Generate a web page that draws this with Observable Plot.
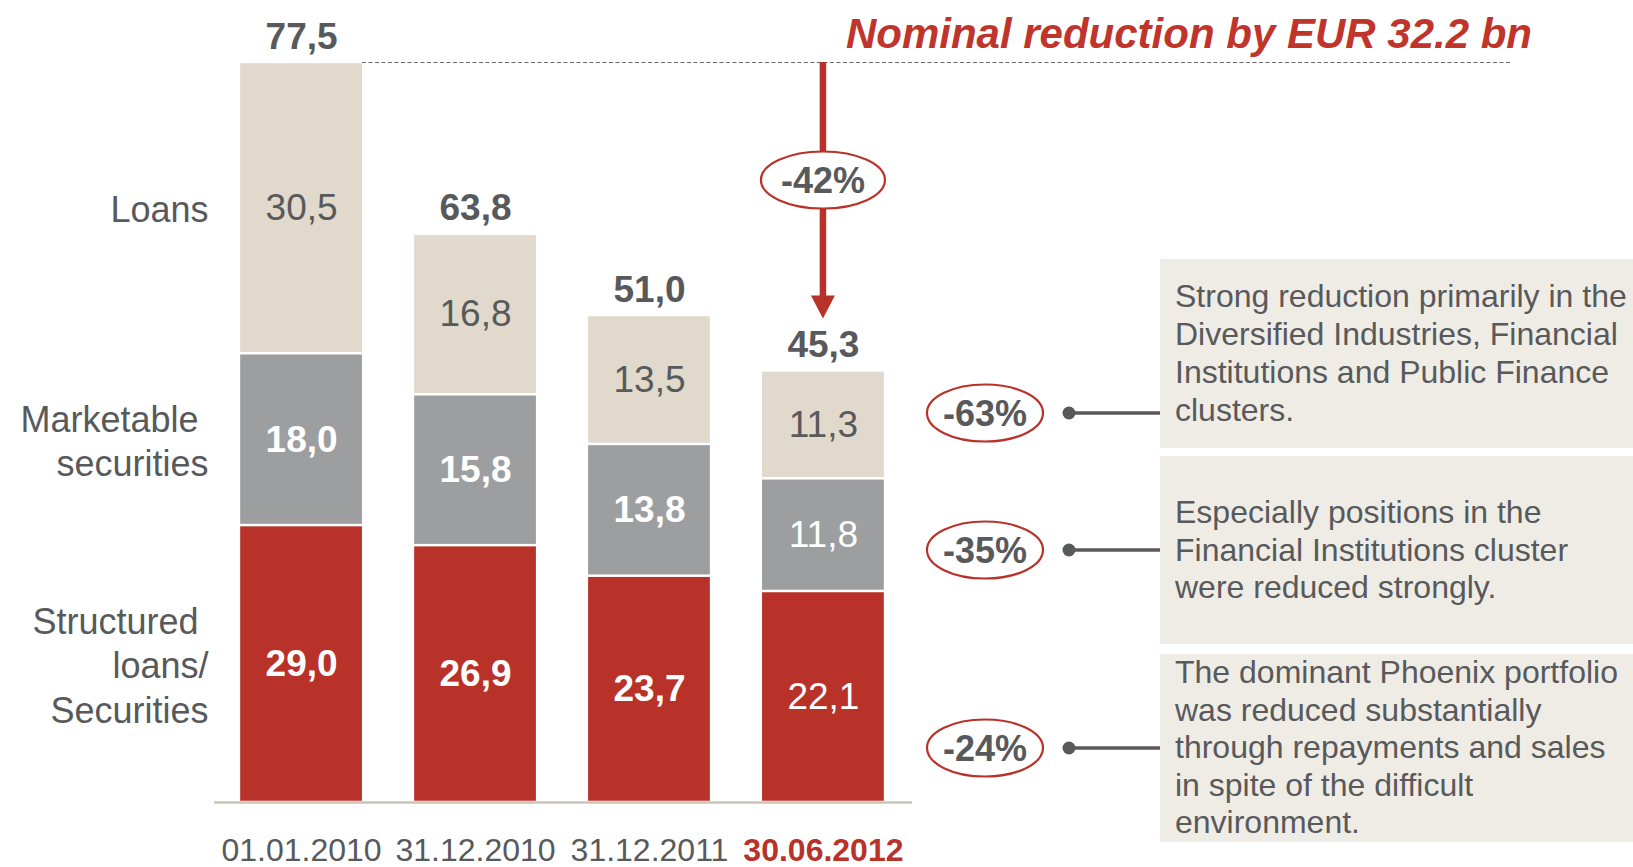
<!DOCTYPE html>
<html><head><meta charset="utf-8">
<script src="https://cdn.jsdelivr.net/npm/d3@7"></script>
<script src="https://cdn.jsdelivr.net/npm/@observablehq/plot@0.6"></script>
<style>body{margin:0;background:#fff;} svg{display:block;}</style>
</head><body><div id="chart"></div>
<script>
// ---- data ----
const dates = ["01.01.2010", "31.12.2010", "31.12.2011", "30.06.2012"];
const seriesKeys = ["Structured", "Marketable", "Loans"];
const seriesLabels = ["Structured\u00A0\nloans/\nSecurities", "Marketable\u00A0\nsecurities", "Loans"];
const structured = [29.0, 26.9, 23.7, 22.1];
const marketable = [18.0, 15.8, 13.8, 11.8];
const loans = [30.5, 16.8, 13.5, 11.3];
const totals = [77.5, 63.8, 51.0, 45.3];
const title = "Nominal reduction by EUR 32.2 bn";
const totalChange = "-42%";
const changes = ["-63%", "-35%", "-24%"];
const notes = [
  ["Strong reduction primarily in the", "Diversified Industries, Financial", "Institutions and Public Finance", "clusters."],
  ["Especially positions in the", "Financial Institutions cluster", "were reduced strongly."],
  ["The dominant Phoenix portfolio", "was reduced substantially", "through repayments and sales", "in spite of the difficult", "environment."]
];

// ---- styles ----
const RED = "#b8322a", TITLE_RED = "#c0352b", GRAY = "#9d9ea0", BEIGE = "#e0d9cc";
const TXT = "#58595b", BOX = "#efece6", AXIS = "#cbc5b9";
const FONT = "'Liberation Sans', Arial, Helvetica, sans-serif";
const fmt = v => d3.format(".1f")(v).replace(".", ",");

const rows = [];
dates.forEach((d, i) => {
  rows.push({date: d, series: "Structured", value: structured[i]});
  rows.push({date: d, series: "Marketable", value: marketable[i]});
  rows.push({date: d, series: "Loans", value: loans[i]});
});
const totalRows = dates.map((d, i) => ({date: d, total: totals[i], top: structured[i] + marketable[i] + loans[i]}));
const labelOf = Object.fromEntries(seriesKeys.map((k, i) => [k, seriesLabels[i]]));
const last = dates[dates.length - 1];

const stack = {x: "date", y: "value", z: "series", order: seriesKeys};

const chart = Plot.plot({
  width: 1633, height: 867,
  marginLeft: 188, marginRight: 697, marginTop: 62, marginBottom: 65,
  style: {fontFamily: FONT, background: "white"},
  x: {domain: dates, padding: 0.3, round: false, axis: null},
  y: {domain: [0, d3.max(totalRows, d => d.top)], axis: null},
  color: {domain: seriesKeys, range: [RED, GRAY, BEIGE]},
  marks: [
    Plot.barY(rows, Plot.stackY({...stack, fill: "series", insetTop: 1.25, insetBottom: 1.25})),
    Plot.ruleY([0], {stroke: AXIS, strokeWidth: 2.5, insetLeft: 26, insetRight: 24}),
    // loans labels (dark, regular)
    Plot.text(rows, Plot.filter(d => d.series === "Loans",
      Plot.stackY({...stack, text: d => fmt(d.value), fill: TXT, fontSize: 37}))),
    // bold white labels
    Plot.text(rows, Plot.filter(d => d.series !== "Loans" && d.date !== last,
      Plot.stackY({...stack, text: d => fmt(d.value), fill: "white", fontSize: 37, fontWeight: "bold"}))),
    // regular white labels for latest date
    Plot.text(rows, Plot.filter(d => d.series !== "Loans" && d.date === last,
      Plot.stackY({...stack, text: d => fmt(d.value), fill: "white", fontSize: 37}))),
    // totals
    Plot.text(totalRows, {x: "date", y: "top", text: d => fmt(d.total), lineAnchor: "bottom", dy: -14,
      fontSize: 37, fontWeight: "bold", fill: TXT}),
    // category labels beside first bar
    Plot.text(rows, Plot.filter(d => d.date === dates[0],
      Plot.stackY({...stack, text: d => labelOf[d.series], textAnchor: "end", dx: -93,
        lineHeight: 1.24, fontSize: 36, fill: TXT}))),
    // date tick labels
    Plot.text(dates.filter(d => d !== last), {x: d => d, frameAnchor: "bottom", lineAnchor: "bottom", dy: 58,
      fontSize: 32, fill: TXT}),
    Plot.text([last], {x: d => d, frameAnchor: "bottom", lineAnchor: "bottom", dy: 58,
      fontSize: 32, fontWeight: "bold", fill: RED})
  ]
});

document.getElementById("chart").append(chart);

// ---- annotations ----
const svg = d3.select(chart);
const xs = chart.scale("x"), ys = chart.scale("y");
const bw = xs.bandwidth;
const xLast = xs.apply(last) + bw / 2;
const xFirstRight = xs.apply(dates[0]) + bw;
const yTop = ys.apply(totalRows[0].top);
const tipY = ys.apply(totalRows[totalRows.length - 1].top) - 52;
const g = svg.append("g").attr("font-family", FONT).attr("text-anchor", "start");

g.append("line").attr("x1", xFirstRight).attr("x2", 1510).attr("y1", yTop + 0.5).attr("y2", yTop + 0.5)
  .attr("stroke", "#6a6a6a").attr("stroke-width", 1.2).attr("stroke-dasharray", "4,2.5");

g.append("text").attr("x", 1532).attr("y", 48).attr("text-anchor", "end")
  .attr("font-size", 42).attr("font-weight", "bold").attr("font-style", "italic")
  .attr("fill", TITLE_RED).text(title);

// arrow
g.append("line").attr("x1", xLast).attr("x2", xLast).attr("y1", yTop).attr("y2", tipY - 20)
  .attr("stroke", RED).attr("stroke-width", 6.5);
g.append("path").attr("d", `M${xLast - 12},${tipY - 23}L${xLast + 12},${tipY - 23}L${xLast},${tipY}Z`)
  .attr("fill", RED);
g.append("ellipse").attr("cx", xLast).attr("cy", 180).attr("rx", 62).attr("ry", 28.5)
  .attr("fill", "white").attr("stroke", RED).attr("stroke-width", 2.2);
g.append("text").attr("x", xLast).attr("y", 180).attr("dy", "0.36em").attr("text-anchor", "middle")
  .attr("font-size", 36).attr("font-weight", "bold").attr("fill", TXT).text(totalChange);

// right side boxes
const boxes = [{y: 259, h: 189, cy: 413, base: 307, lh: 38},
               {y: 456, h: 188, cy: 550, base: 523, lh: 37.5},
               {y: 654, h: 188, cy: 748, base: 683, lh: 37.5}];
boxes.forEach((b, i) => {
  g.append("rect").attr("x", 1160).attr("y", b.y).attr("width", 473).attr("height", b.h).attr("fill", BOX);
  g.append("ellipse").attr("cx", 985).attr("cy", b.cy).attr("rx", 58).attr("ry", 28.5)
    .attr("fill", "white").attr("stroke", RED).attr("stroke-width", 2.2);
  g.append("text").attr("x", 985).attr("y", b.cy).attr("dy", "0.36em").attr("text-anchor", "middle")
    .attr("font-size", 36).attr("font-weight", "bold").attr("fill", TXT).text(changes[i]);
  g.append("line").attr("x1", 1069).attr("x2", 1160).attr("y1", b.cy).attr("y2", b.cy)
    .attr("stroke", TXT).attr("stroke-width", 3.5);
  g.append("circle").attr("cx", 1069).attr("cy", b.cy).attr("r", 6.5).attr("fill", TXT);
  notes[i].forEach((line, j) => {
    g.append("text").attr("x", 1175).attr("y", b.base + j * b.lh).attr("text-anchor", "start")
      .attr("font-size", 32).attr("fill", TXT).text(line);
  });
});
</script>
</body></html>
